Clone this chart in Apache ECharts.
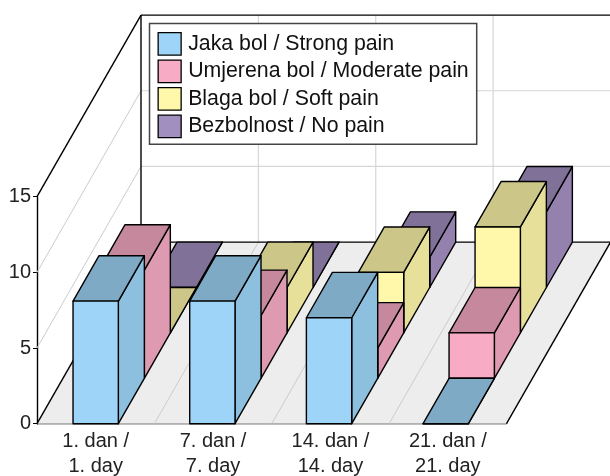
<!DOCTYPE html>
<html>
<head>
<meta charset="utf-8">
<style>
html, body { margin: 0; padding: 0; background: #fff; }
#main { width: 610px; height: 476px; }
</style>
</head>
<body>
<div id="main"></div>
<script src="https://cdn.jsdelivr.net/npm/echarts@6/dist/echarts.min.js"></script>
<script>
const days = ['1. dan /\n1. day', '7. dan /\n7. day', '14. dan /\n14. day', '21. dan /\n21. day'];
const seriesNames = ['Jaka bol / Strong pain', 'Umjerena bol / Moderate pain', 'Blaga bol / Soft pain', 'Bezbolnost / No pain'];
const strongPain = [8.1, 8.1, 7, 0];
const moderatePain = [7.15, 4.15, 2, 3];
const softPain = [0, 3, 4, 7];
const noPain = [0, 0, 2, 5];
const yTicks = [0, 5, 10, 15];

// colours: front, side, top
const blue = ['#9DD4F7', '#8DBFDE', '#7EAAC6'];
const pink = ['#F7ABC5', '#DE9AB1', '#C5889D'];
const yellow = ['#FFF8AA', '#E6E09A', '#CCC688'];
const purple = ['#A08FBF', '#9481AD', '#807199'];

// oblique projection of one depth slot
const slotX = 26;
const slotY = -45.4;
const slots = 4;
const barShare = 0.386;
const barDrift = 0.7; // bars sit a bit tighter than the axis ticks
const edge = 1.4;
const fontName = '"Liberation Sans", Arial, sans-serif';

function poly(points, fill, stroke, width) {
    return {
        type: 'polygon',
        shape: { points: points },
        style: { fill: fill, stroke: stroke, lineWidth: width, lineJoin: 'round' }
    };
}

function line(a, b, color, width) {
    return {
        type: 'line',
        shape: { x1: a[0], y1: a[1], x2: b[0], y2: b[1] },
        style: { stroke: color, lineWidth: width, fill: null }
    };
}

function shift(p, n) {
    return [p[0] + slotX * n, p[1] + slotY * n];
}

function renderWalls(params, api) {
    const band = api.size([1, 0])[0];
    const children = [];
    const left = api.coord([0, 0])[0] - band / 2;
    const base = api.coord([0, 0])[1];
    const top = api.coord([0, 15])[1];

    const floor = [[left, base], [left + band * days.length, base], shift([left + band * days.length, base], slots), shift([left, base], slots)];
    children.push(poly(floor, '#EDEDED', null, 0));

    // grid on the back wall and left wall
    yTicks.slice(1, 3).forEach(function (t) {
        const y = api.coord([0, t])[1];
        children.push(line([left, y], shift([left, y], slots), '#CCCCCC', 1));
        children.push(line(shift([left, y], slots), shift([left + band * days.length, y], slots), '#D6D6D6', 1.2));
    });
    days.forEach(function (d, i) {
        const x = left + band * i;
        if (i > 0) {
            children.push(line([x, base], shift([x, base], slots), '#CCCCCC', 1));
            children.push(line(shift([x, base], slots), shift([x, top], slots), '#D6D6D6', 1.2));
        }
    });

    // frame
    const farLeft = shift([left, base], slots);
    const farRight = shift([left + band * days.length, base], slots);
    children.push(line([left, base], farLeft, '#000', edge));
    children.push(line([left + band * days.length, base], farRight, '#000', edge));
    children.push(line(farLeft, farRight, '#000', edge));
    children.push(line(farLeft, shift([left, top], slots), '#000', edge));
    children.push(line([left, top], shift([left, top], slots), '#000', edge));
    children.push(line(shift([left, top], slots), shift([left + band * days.length, top], slots), '#000', edge));
    return { type: 'group', children: children };
}

function barRenderer(depth, colors) {
    return function (params, api) {
        const band = api.size([1, 0])[0];
        const w = band * barShare;
        const base = api.coord([api.value(0), 0]);
        const head = api.coord([api.value(0), api.value(1)]);
        const cx = base[0] - api.value(0) * barDrift;
        const x0 = cx - w / 2;
        const x1 = cx + w / 2;

        const fl = shift([x0, base[1]], depth);
        const fr = shift([x1, base[1]], depth);
        const tl = shift([x0, head[1]], depth);
        const tr = shift([x1, head[1]], depth);
        const children = [];
        children.push(poly([fr, shift(fr, 1), shift(tr, 1), tr], colors[1], '#000', edge));
        children.push(poly([tl, tr, shift(tr, 1), shift(tl, 1)], colors[2], '#000', edge));
        children.push(poly([fl, fr, tr, tl], colors[0], '#000', edge));
        return { type: 'group', children: children };
    };
}

function barSeries(name, values, depth, colors) {
    return {
        name: name,
        type: 'custom',
        z: 10 - depth,
        itemStyle: { color: colors[0] },
        encode: { x: 0, y: 1 },
        data: values.map(function (v, i) { return [i, v]; }),
        renderItem: barRenderer(depth, colors)
    };
}

const chart = echarts.init(document.getElementById('main'), null, { renderer: 'canvas' });
chart.setOption({
    animation: false,
    backgroundColor: '#fff',
    textStyle: { fontFamily: fontName },
    grid: { left: 37, right: 103.5, top: 196.7, bottom: 52.3, outerBoundsMode: 'none' },
    legend: {
        orient: 'vertical',
        left: 149.5,
        top: 23.5,
        padding: [8.5, 8, 6, 8],
        itemWidth: 23,
        itemHeight: 22.5,
        itemGap: 3.7,
        icon: 'rect',
        backgroundColor: '#fff',
        borderColor: '#444',
        borderWidth: 1.5,
        borderRadius: 0,
        itemStyle: { borderColor: '#000', borderWidth: 1.3 },
        textStyle: { fontFamily: fontName, fontSize: 21.3, lineHeight: 20, color: '#111', padding: [3, 0, 0, 2] },
        data: seriesNames
    },
    xAxis: {
        type: 'category',
        data: days,
        axisLine: { lineStyle: { color: '#000', width: edge } },
        axisTick: { length: 4, lineStyle: { color: '#000', width: 1 } },
        axisLabel: { fontFamily: fontName, fontSize: 20, color: '#222', lineHeight: 24.5, margin: 6 }
    },
    yAxis: {
        type: 'value',
        min: 0,
        max: 15,
        interval: 5,
        splitLine: { show: false },
        axisLine: { show: true, lineStyle: { color: '#000', width: edge } },
        axisTick: { show: true, length: 4, lineStyle: { color: '#000', width: 1 } },
        axisLabel: { fontFamily: fontName, fontSize: 20, color: '#222', margin: 6, padding: [6, 0, 0, 0] }
    },
    series: [
        {
            type: 'custom',
            z: 1,
            silent: true,
            encode: { x: 0, y: 1 },
            data: [[0, 0]],
            renderItem: renderWalls
        },
        barSeries(seriesNames[3], noPain, 3, purple),
        barSeries(seriesNames[2], softPain, 2, yellow),
        barSeries(seriesNames[1], moderatePain, 1, pink),
        barSeries(seriesNames[0], strongPain, 0, blue)
    ]
});
</script>
</body>
</html>
